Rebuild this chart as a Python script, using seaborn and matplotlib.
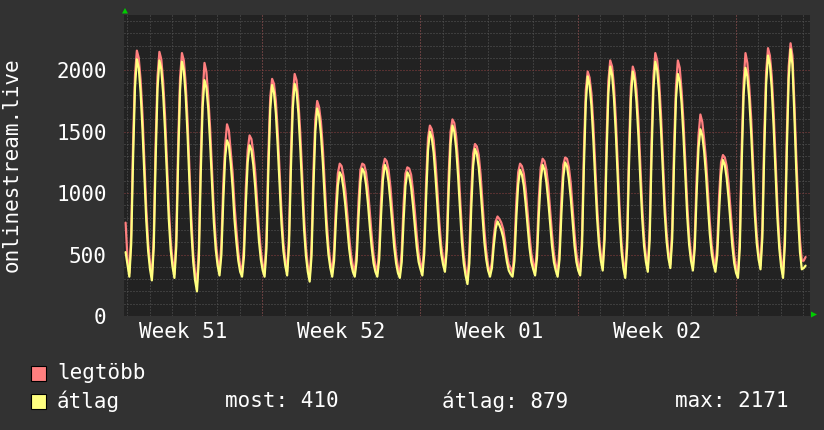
import numpy as np
import pandas as pd
import matplotlib
matplotlib.use("Agg")
import matplotlib.pyplot as plt
import seaborn as sns
from matplotlib.patches import Rectangle, Polygon
from matplotlib.ticker import MultipleLocator, FixedLocator

# ---------------- data ----------------
# one row per day, samples every 2 hours starting 00:30
sample_hours = [0.5, 2.5, 4.5, 6.5, 8.5, 10.5, 12.5, 14.5, 16.5, 18.5, 20.5, 22.5]
lead_hour = -1.5
lead_avg = 520
lead_max = 760

avg_rows = [
    [420, 320, 590, 1290, 1860, 2090, 2020, 1820, 1520, 1140, 780, 530],
    [380, 290, 560, 1280, 1850, 2080, 2010, 1810, 1510, 1140, 790, 540],
    [400, 310, 570, 1280, 1840, 2070, 2000, 1790, 1470, 1080, 700, 440],
    [290, 200, 460, 1150, 1700, 1920, 1860, 1690, 1410, 1080, 760, 540],
    [410, 330, 500, 940, 1290, 1430, 1390, 1240, 1040, 780, 600, 450],
    [360, 320, 480, 910, 1250, 1390, 1350, 1230, 1050, 820, 610, 460],
    [370, 320, 550, 1180, 1680, 1880, 1820, 1650, 1380, 1060, 750, 530],
    [410, 330, 570, 1190, 1690, 1890, 1830, 1650, 1370, 1040, 710, 490],
    [360, 280, 490, 1050, 1500, 1690, 1630, 1480, 1250, 960, 690, 500],
    [390, 320, 450, 790, 1060, 1170, 1140, 1040, 900, 720, 550, 430],
    [360, 320, 450, 800, 1090, 1200, 1170, 1070, 920, 730, 560, 430],
    [360, 320, 460, 820, 1110, 1230, 1190, 1090, 930, 740, 560, 430],
    [350, 310, 440, 780, 1060, 1170, 1140, 1050, 900, 730, 560, 440],
    [380, 330, 510, 970, 1350, 1500, 1450, 1330, 1130, 900, 670, 510],
    [420, 360, 540, 1020, 1400, 1550, 1500, 1360, 1140, 870, 610, 430],
    [330, 260, 430, 870, 1220, 1360, 1320, 1210, 1030, 810, 600, 460],
    [370, 320, 390, 570, 710, 770, 740, 700, 640, 540, 440, 370],
    [340, 320, 450, 800, 1070, 1190, 1150, 1060, 910, 730, 560, 440],
    [380, 330, 470, 830, 1110, 1230, 1190, 1090, 940, 750, 570, 440],
    [370, 320, 460, 830, 1130, 1250, 1220, 1110, 960, 760, 570, 440],
    [370, 330, 570, 1220, 1740, 1950, 1880, 1710, 1440, 1110, 800, 580],
    [450, 370, 620, 1280, 1810, 2030, 1960, 1770, 1480, 1120, 770, 530],
    [390, 310, 560, 1230, 1770, 1990, 1920, 1740, 1470, 1120, 800, 570],
    [440, 360, 620, 1300, 1850, 2070, 2000, 1820, 1530, 1180, 840, 610],
    [470, 390, 630, 1260, 1770, 1970, 1910, 1730, 1460, 1130, 810, 580],
    [450, 370, 550, 1000, 1370, 1520, 1470, 1340, 1150, 900, 670, 510],
    [420, 360, 500, 860, 1150, 1270, 1230, 1120, 960, 760, 570, 430],
    [350, 310, 560, 1250, 1800, 2020, 1950, 1770, 1500, 1150, 820, 590],
    [460, 380, 640, 1340, 1890, 2120, 2050, 1850, 1540, 1160, 800, 550],
    [400, 310, 590, 1340, 1930, 2171, 2050, 1650, 1200, 810, 520, 380],
]
max_rows = [
    [470, 350, 680, 1420, 1960, 2160, 2100, 1920, 1640, 1260, 880, 600],
    [430, 320, 650, 1410, 1950, 2150, 2090, 1910, 1630, 1260, 890, 610],
    [450, 340, 660, 1410, 1940, 2140, 2080, 1890, 1590, 1200, 800, 510],
    [350, 270, 550, 1280, 1800, 2060, 1990, 1790, 1530, 1200, 860, 610],
    [460, 360, 590, 1070, 1390, 1560, 1510, 1340, 1160, 900, 700, 520],
    [410, 350, 570, 1040, 1350, 1470, 1440, 1330, 1170, 940, 710, 530],
    [420, 350, 640, 1310, 1780, 1930, 1890, 1750, 1500, 1180, 850, 600],
    [460, 360, 660, 1320, 1790, 1970, 1920, 1750, 1490, 1160, 810, 560],
    [410, 310, 580, 1180, 1600, 1750, 1700, 1580, 1370, 1080, 790, 570],
    [440, 350, 540, 920, 1160, 1240, 1220, 1140, 1020, 840, 650, 500],
    [410, 350, 540, 930, 1190, 1240, 1230, 1170, 1040, 850, 660, 500],
    [410, 350, 550, 950, 1210, 1280, 1260, 1190, 1050, 860, 660, 500],
    [400, 340, 530, 910, 1160, 1210, 1200, 1150, 1020, 850, 660, 510],
    [430, 360, 600, 1100, 1450, 1550, 1520, 1430, 1250, 1020, 770, 580],
    [470, 390, 630, 1150, 1500, 1600, 1570, 1460, 1260, 990, 710, 500],
    [380, 290, 520, 1000, 1320, 1400, 1380, 1310, 1150, 930, 700, 530],
    [410, 350, 440, 640, 770, 810, 790, 760, 710, 610, 500, 420],
    [390, 350, 540, 930, 1170, 1240, 1220, 1160, 1030, 850, 660, 510],
    [430, 360, 560, 960, 1210, 1280, 1260, 1190, 1060, 870, 670, 510],
    [420, 350, 550, 960, 1230, 1290, 1280, 1210, 1080, 880, 670, 510],
    [420, 360, 660, 1350, 1840, 1990, 1940, 1810, 1560, 1230, 900, 650],
    [500, 400, 710, 1410, 1910, 2080, 2030, 1870, 1600, 1240, 870, 600],
    [440, 340, 650, 1360, 1870, 2030, 1980, 1840, 1590, 1240, 900, 640],
    [490, 390, 710, 1430, 1950, 2140, 2080, 1920, 1650, 1300, 940, 680],
    [520, 420, 720, 1390, 1870, 2080, 2020, 1830, 1580, 1250, 910, 650],
    [500, 400, 640, 1130, 1470, 1640, 1580, 1440, 1270, 1020, 770, 580],
    [470, 390, 590, 990, 1250, 1310, 1290, 1220, 1080, 880, 670, 500],
    [400, 340, 650, 1380, 1900, 2140, 2060, 1870, 1620, 1270, 920, 660],
    [510, 410, 730, 1470, 1990, 2180, 2120, 1950, 1660, 1280, 900, 620],
    [450, 340, 680, 1470, 2030, 2220, 2120, 1750, 1320, 930, 620, 450],
]
tail_hours = [0.5, 2.5]
tail_avg = [390, 410]
tail_max = [450, 480]

y_ticks = [0, 500, 1000, 1500, 2000]
week_labels = ["Week 51", "Week 52", "Week 01", "Week 02"]
week_centers = [2.5, 9.5, 16.5, 23.5]
week_starts = [6, 13, 20, 27]
series_names = ["legtöbb", "átlag"]
legend_stats = ["most: 410", "átlag: 879", "max: 2171"]
y_title = "onlinestream.live"
colors = {"legtöbb": "#ff7f7f", "átlag": "#ffff7f"}

# ---------------- build table ----------------
n_days = len(avg_rows)
t = [lead_hour / 24] + [d + h / 24 for d in range(n_days) for h in sample_hours] \
    + [n_days + h / 24 for h in tail_hours]
avg = [lead_avg] + [v for row in avg_rows for v in row] + tail_avg
mx = [lead_max] + [v for row in max_rows for v in row] + tail_max
df = pd.DataFrame({
    "t": t + t,
    "value": mx + avg,
    "series": [series_names[0]] * len(t) + [series_names[1]] * len(t),
})

# ---------------- style ----------------
sns.set_theme(style="dark")
plt.rcParams["font.family"] = ["DejaVu Sans Mono", "DejaVu Sans"]
plt.rcParams["lines.scale_dashes"] = False

W, H = 824, 430
FS = 15
TXT = "#ffffff"
fig = plt.figure(figsize=(W / 100, H / 100), dpi=100, facecolor="#323232")
ax = fig.add_axes([124 / W, 1 - 316 / H, (810 - 124) / W, (316 - 15) / H])
ax.set_facecolor("#222222")

sns.lineplot(data=df, x="t", y="value", hue="series", hue_order=series_names,
             palette=colors, estimator=None, sort=False, linewidth=1.6,
             legend=False, ax=ax, zorder=3)

ax.set_xlim(-0.133, 30.30)
ax.set_ylim(0, 2450)
ax.set_xlabel("")
ax.set_ylabel("")
for s in ax.spines.values():
    s.set_visible(False)

dots = (0, (0.72, 1.44))
ax.grid(False)
ax.yaxis.set_major_locator(FixedLocator(y_ticks))
ax.yaxis.set_minor_locator(MultipleLocator(100))
ax.set_yticklabels([str(v) for v in y_ticks])
ax.xaxis.set_major_locator(FixedLocator(week_centers))
ax.xaxis.set_minor_locator(MultipleLocator(1))
ax.set_xticklabels(week_labels)

ax.grid(which="minor", axis="both", color="#585858", linestyle=dots, linewidth=0.75, zorder=0)
ax.grid(which="major", axis="y", color="#8c4040", linestyle=dots, linewidth=0.75, zorder=1)
ax.grid(which="major", axis="x", visible=False)
for ws in week_starts:
    ax.axvline(ws, color="#8c4040", linestyle=dots, linewidth=0.75, zorder=1)
ax.set_axisbelow(True)

ax.tick_params(axis="y", which="major", length=0, pad=12.5, labelsize=FS, labelcolor=TXT)
ax.tick_params(axis="y", which="minor", length=0)
ax.tick_params(axis="x", which="major", length=0, pad=4, labelsize=FS, labelcolor=TXT)
ax.tick_params(axis="x", which="minor", length=0)

fig.text(12 / W, 1 - 165 / H, y_title, rotation=90, ha="center", va="center",
         fontsize=FS, color=TXT)

# arrows at axis ends
fig.add_artist(Polygon([[122 / W, 1 - 13.5 / H], [128 / W, 1 - 13.5 / H], [125 / W, 1 - 8 / H]],
                       closed=True, transform=fig.transFigure, color="#00cc00", lw=0))
fig.add_artist(Polygon([[811 / W, 1 - 311.5 / H], [811 / W, 1 - 317.5 / H], [817 / W, 1 - 314.5 / H]],
                       closed=True, transform=fig.transFigure, color="#00cc00", lw=0))

# legend
rows_y = [373, 401]
for name, yy in zip(series_names, rows_y):
    fig.add_artist(Rectangle((31 / W, 1 - (yy + 8) / H), 15 / W, 15 / H,
                             transform=fig.transFigure, facecolor=colors[name],
                             edgecolor="#000000", lw=0.8))
    fig.text(57 / W, 1 - yy / H, name, ha="left", va="center", fontsize=FS, color=TXT)
for txt, xx in zip(legend_stats, [225, 442, 675]):
    fig.text(xx / W, 1 - rows_y[1] / H, txt, ha="left", va="center", fontsize=FS, color=TXT)

fig.savefig("out.png", dpi=100, facecolor=fig.get_facecolor())
